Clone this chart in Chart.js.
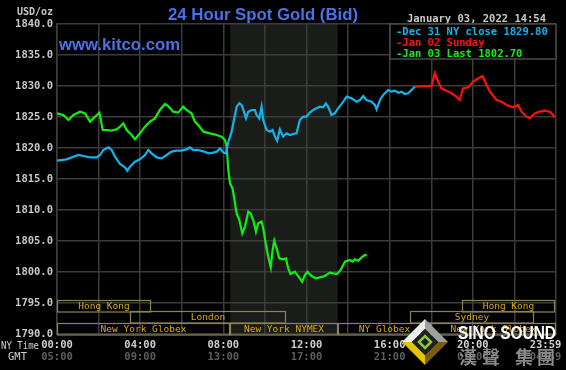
<!DOCTYPE html>
<html>
<head>
<meta charset="utf-8">
<script src="https://cdn.jsdelivr.net/npm/chart.js@4.4.1/dist/chart.umd.min.js"></script>
<style>
  html, body { margin: 0; padding: 0; background: #000; }
  #wrap { width: 566px; height: 370px; }
</style>
</head>
<body>
<div id="wrap"><canvas id="goldChart" width="566" height="370"></canvas></div>
<script>
// x values are NY time in hours (0 = 00:00)
const dec31Hours = [0, 0.46, 0.79, 1.03, 1.27, 1.59, 1.91, 2.07, 2.23, 2.47, 2.63, 2.79, 3.03, 3.27, 3.38, 3.51, 3.75, 3.99,
  4.23, 4.39, 4.55, 4.79, 5.03, 5.27, 5.51, 5.75, 5.99, 6.23, 6.39, 6.55, 6.79, 7.04, 7.28, 7.52, 7.68, 7.84, 8.0, 8.13,
  8.24, 8.4, 8.51, 8.64, 8.77, 8.88, 8.99, 9.09, 9.2, 9.36, 9.52, 9.6, 9.73, 9.84, 9.92, 10.08, 10.24, 10.37, 10.48, 10.59,
  10.72, 10.88, 11.04, 11.2, 11.36, 11.52, 11.68, 11.84, 12.0, 12.16, 12.32, 12.48, 12.64, 12.8, 12.93, 13.04, 13.2, 13.36,
  13.52, 13.77, 13.93, 14.17, 14.41, 14.57, 14.73, 14.89, 15.13, 15.29, 15.37, 15.53, 15.69, 15.93, 16.09, 16.25, 16.41,
  16.57, 16.73, 16.89, 17.05, 17.21];
const dec31Prices = [1817.96, 1818.17, 1818.6, 1818.87, 1818.71, 1818.49, 1818.49, 1818.87, 1819.68, 1820.11, 1819.68, 1818.6,
  1817.42, 1816.88, 1816.34, 1816.99, 1817.8, 1818.17, 1818.87, 1819.68, 1819.14, 1818.49, 1818.33, 1818.87, 1819.41, 1819.57,
  1819.57, 1819.78, 1820.11, 1819.68, 1819.68, 1819.46, 1819.14, 1819.25, 1819.41, 1819.95, 1819.25, 1819.14,
  1821.02, 1822.63, 1824.52, 1826.67, 1827.2, 1826.94, 1825.86, 1824.78, 1825.86, 1826.13, 1826.13, 1825.32, 1824.78, 1826.67,
  1824.52, 1822.9, 1822.63, 1822.9, 1821.83, 1821.18, 1823.01, 1821.83, 1822.37, 1822.1, 1822.26, 1822.37, 1824.52, 1825.05,
  1825.05, 1825.7, 1826.13, 1826.4, 1826.67, 1826.56, 1827.2, 1826.67, 1825.32, 1825.59, 1826.4, 1827.47, 1828.28, 1828.01,
  1827.47, 1827.74, 1828.39, 1827.74, 1827.47, 1826.94, 1826.24, 1827.74, 1828.55, 1829.35, 1829.09, 1829.25, 1828.92,
  1829.09, 1828.71, 1828.82, 1829.35, 1829.89];

const jan02Hours = [17.21, 18.01, 18.17, 18.33, 18.49, 18.73, 18.97, 19.21, 19.37, 19.53, 19.77, 20.02, 20.26, 20.47, 20.66,
  20.82, 21.14, 21.38, 21.62, 21.94, 22.18, 22.34, 22.58, 22.74, 22.98, 23.22, 23.46, 23.7, 23.86, 23.94];
const jan02Prices = [1829.89, 1830.0, 1832.04, 1830.7, 1829.62, 1829.25, 1828.82, 1828.28, 1827.74, 1829.62, 1829.78, 1830.7,
  1831.24, 1831.61, 1830.16, 1829.09, 1827.74, 1827.47, 1826.94, 1826.56, 1826.94, 1825.86, 1825.05, 1824.78, 1825.59,
  1825.86, 1826.02, 1825.86, 1825.32, 1824.95];

const jan03Hours = [0, 0.3, 0.55, 0.79, 1.11, 1.35, 1.59, 1.83, 2.04, 2.2, 2.39, 2.63, 2.87, 3.03, 3.19, 3.35, 3.59, 3.75, 3.99,
  4.23, 4.47, 4.71, 4.95, 5.19, 5.35, 5.59, 5.83, 6.07, 6.23, 6.47, 6.63, 6.79, 7.04, 7.36, 7.68, 7.92, 8.08, 8.16, 8.24,
  8.32, 8.44, 8.51, 8.64, 8.77, 8.91, 9.04, 9.2, 9.31, 9.44, 9.57, 9.68, 9.84, 9.92, 10.05, 10.16, 10.28, 10.37, 10.45, 10.56,
  10.69, 10.88, 11.01, 11.12, 11.23, 11.44, 11.6, 11.79, 11.92, 12.05, 12.24, 12.45, 12.64, 12.88, 13.12, 13.28, 13.47,
  13.64, 13.85, 14.09, 14.21, 14.33, 14.49, 14.65, 14.81, 14.9];
const jan03Prices = [1825.59, 1825.32, 1824.52, 1825.32, 1825.86, 1825.59, 1824.25, 1825.05, 1825.7, 1822.9, 1822.9, 1822.8,
  1823.01, 1823.44, 1823.98, 1822.9, 1822.1, 1821.4, 1822.37, 1823.44, 1824.25, 1824.78, 1826.13, 1827.1, 1826.77, 1825.86,
  1825.7, 1826.67, 1826.13, 1825.59, 1824.25, 1823.71, 1822.63, 1822.37, 1822.1, 1821.83, 1821.29, 1820.22, 1816.45,
  1814.3, 1813.49, 1812.15, 1809.46, 1808.39, 1806.24, 1807.31, 1809.73, 1809.46, 1808.39, 1806.5, 1807.85, 1808.12, 1807.04,
  1804.35, 1802.47, 1800.75, 1803.55, 1805.05, 1803.82, 1802.2, 1802.04, 1802.2, 1800.59, 1799.68, 1800.05, 1799.35, 1798.44,
  1799.52, 1800.05, 1799.35, 1798.98, 1799.14, 1799.35, 1799.89, 1799.78, 1799.68, 1800.32, 1801.66, 1801.93, 1801.66,
  1802.04, 1801.83, 1802.36, 1802.74, 1802.7];

const seriesLabels = ['Dec 31 NY close 1829.80', 'Jan 02 Sunday', 'Jan 03 Last 1802.70'];
const seriesColors = ['#12b4ea', '#ff1010', '#10f010'];

const timeTickHours = [0, 4, 8, 12, 16, 20, 24];
const nyTimeLabels = ['00:00', '04:00', '08:00', '12:00', '16:00', '20:00', '23:59'];
const gmtLabels = ['05:00', '09:00', '13:00', '17:00', '21:00', '01:00', '04:59'];

// trading sessions: row 0 = top row
const sessionNames = ['Hong Kong', 'Hong Kong', 'London', 'Sydney', 'New York Globex', 'New York NYMEX', 'NY Globex', 'New York Globex'];
const sessionStart = [0, 19.5, 3.5, 17, 0, 8.33, 13.5, 18];
const sessionEnd = [4.5, 23.95, 11, 22.95, 8.33, 13.5, 18, 24];
const sessionRow = [0, 0, 1, 1, 2, 2, 2, 2];

function points(xs, ys) {
  return xs.map((x, i) => ({ x: x, y: ys[i] }));
}

const mono = '"DejaVu Sans Mono", "Liberation Mono", monospace';
const sans = '"Liberation Sans", Arial, sans-serif';

const kitcoPlugin = {
  id: 'kitco',
  beforeDraw(chart) {
    const { ctx, chartArea: a, scales: { x } } = chart;
    // NYMEX shading
    const x0 = x.getPixelForValue(sessionStart[5]);
    const x1 = x.getPixelForValue(sessionEnd[5]);
    ctx.save();
    ctx.fillStyle = '#1a1c19';
    ctx.fillRect(x0, a.top, x1 - x0, a.bottom - a.top);
    ctx.restore();
  },
  afterDraw(chart) {
    const { ctx, chartArea: a, scales: { x } } = chart;
    ctx.save();

    // session bars
    const rowH = 11.5;
    const rowTop = a.bottom - 3 * rowH;
    ctx.font = '9.5px ' + mono;
    ctx.textAlign = 'center';
    ctx.textBaseline = 'middle';
    sessionNames.forEach((name, i) => {
      const sx = Math.round(x.getPixelForValue(sessionStart[i])) + 0.5;
      const ex = Math.round(x.getPixelForValue(sessionEnd[i])) - 0.5;
      const sy = Math.round(rowTop + sessionRow[i] * rowH) + 0.5;
      ctx.strokeStyle = '#8a8456';
      ctx.lineWidth = 1.2;
      ctx.strokeRect(sx, sy, ex - sx, rowH);
      ctx.fillStyle = '#d8aa10';
      ctx.fillText(name, (sx + ex) / 2, sy + rowH / 2 + 0.5);
    });

    // title + site
    ctx.fillStyle = '#4a72e6';
    ctx.font = 'bold 17px ' + sans;
    ctx.textBaseline = 'alphabetic';
    ctx.fillText('24 Hour Spot Gold (Bid)', 263, 20, 190);
    ctx.textAlign = 'left';
    ctx.fillText('www.kitco.com', 59, 50, 121);

    // units + date
    ctx.fillStyle = '#c8c8c8';
    ctx.font = 'bold 10px ' + mono;
    ctx.fillText('USD/oz', 17, 15, 37);
    ctx.textAlign = 'right';
    ctx.font = 'bold 10.5px ' + mono;
    ctx.fillText('January 03, 2022 14:54', 546, 21.5, 140);

    // legend box
    ctx.fillStyle = '#000';
    ctx.fillRect(390, a.top, a.right - 390, 35);
    ctx.strokeStyle = '#4a4a4a';
    ctx.lineWidth = 1.5;
    ctx.strokeRect(390, a.top, a.right - 390, 35);
    ctx.textAlign = 'left';
    ctx.font = 'bold 10.5px ' + mono;
    seriesLabels.forEach((lbl, i) => {
      ctx.fillStyle = seriesColors[i];
      ctx.fillText('-' + lbl, 396, 34.5 + i * 11, 155);
    });

    // time axis labels
    ctx.textAlign = 'center';
    ctx.textBaseline = 'middle';
    ctx.font = 'bold 10.5px ' + mono;
    timeTickHours.forEach((h, i) => {
      let px = x.getPixelForValue(h);
      px = Math.min(px, 566 - 5 - 15.5);
      ctx.fillStyle = '#d0d0d0';
      ctx.fillText(nyTimeLabels[i], px, 345);
      ctx.fillStyle = '#5e5e5e';
      ctx.fillText(gmtLabels[i], px, 357.5);
    });
    ctx.fillStyle = '#d0d0d0';
    ctx.font = '10.5px ' + mono;
    ctx.textAlign = 'left';
    ctx.fillText('NY Time', 1, 346, 38);
    ctx.fillText('GMT', 8, 357.5, 22);

    // Sino Sound logo
    const cx = 425, cy = 342, r = 23, ri = 13;
    const facet = (pts, color) => {
      ctx.beginPath();
      pts.forEach((p, k) => (k ? ctx.lineTo(p[0], p[1]) : ctx.moveTo(p[0], p[1])));
      ctx.closePath();
      ctx.fillStyle = color;
      ctx.fill();
    };
    facet([[cx - r, cy], [cx, cy - r], [cx, cy - ri], [cx - ri, cy]], '#ececec');
    facet([[cx, cy - r], [cx + r, cy], [cx + ri, cy], [cx, cy - ri]], '#a0a0a0');
    facet([[cx + r, cy], [cx, cy + r], [cx, cy + ri], [cx + ri, cy]], '#7a5c10');
    facet([[cx, cy + r], [cx - r, cy], [cx - ri, cy], [cx, cy + ri]], '#e2c400');
    facet([[cx - ri, cy], [cx, cy - ri], [cx + ri, cy], [cx, cy + ri]], '#1e1e1e');
    ctx.strokeStyle = '#8cc63f';
    ctx.lineWidth = 2.5;
    ctx.beginPath();
    ctx.moveTo(cx - 6, cy); ctx.lineTo(cx, cy - 6); ctx.lineTo(cx + 6, cy); ctx.lineTo(cx, cy + 6);
    ctx.closePath();
    ctx.stroke();

    ctx.fillStyle = '#ffffff';
    ctx.font = 'bold 18px ' + sans;
    ctx.textBaseline = 'alphabetic';
    ctx.textAlign = 'left';
    ctx.fillText('SINO SOUND', 458, 339, 98);
    ctx.fillStyle = '#8a8a8a';
    ctx.font = 'bold 18px "Noto Sans CJK TC", "Noto Sans CJK SC", sans-serif';
    ['漢', '聲', '集', '團'].forEach((ch, k) => {
      ctx.fillText(ch, [459, 482, 515, 537][k], 364);
    });

    ctx.restore();
  }
};

new Chart(document.getElementById('goldChart'), {
  type: 'line',
  data: {
    datasets: [
      { label: seriesLabels[0], data: points(dec31Hours, dec31Prices), borderColor: seriesColors[0] },
      { label: seriesLabels[1], data: points(jan02Hours, jan02Prices), borderColor: seriesColors[1] },
      { label: seriesLabels[2], data: points(jan03Hours, jan03Prices), borderColor: seriesColors[2] }
    ]
  },
  options: {
    responsive: false,
    devicePixelRatio: 1,
    animation: false,
    layout: { padding: { top: 24, right: 10, left: 0, bottom: 0 } },
    elements: {
      point: { radius: 0 },
      line: { borderWidth: 2.2, tension: 0 }
    },
    scales: {
      x: {
        type: 'linear',
        min: 0,
        max: 24,
        ticks: { display: false, stepSize: 2 },
        grid: { color: '#3c3c3c', lineWidth: 1.5, drawTicks: false },
        border: { color: '#3c3c3c', width: 1.5 },
        afterFit: s => { s.height = 36; }
      },
      y: {
        min: 1790,
        max: 1840,
        ticks: {
          stepSize: 5,
          padding: 4,
          color: '#c8c8c8',
          font: { family: mono, size: 10.5, weight: 'bold' },
          callback: v => v.toFixed(1)
        },
        grid: { color: '#3c3c3c', lineWidth: 1.5, drawTicks: false },
        border: { color: '#3c3c3c', width: 1.5 },
        afterFit: s => { s.width = 57; }
      }
    },
    plugins: {
      legend: { display: false },
      tooltip: { enabled: false }
    }
  },
  plugins: [kitcoPlugin]
});
</script>
</body>
</html>
